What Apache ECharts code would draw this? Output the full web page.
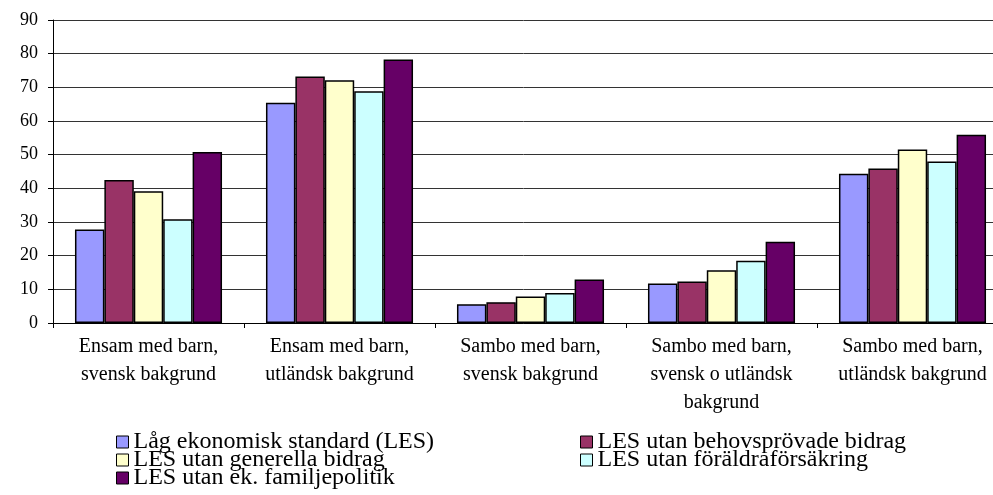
<!DOCTYPE html>
<html>
<head>
    <meta charset="utf-8">
    <title>LES per hushållstyp</title>
    <script src="https://cdn.jsdelivr.net/npm/echarts@6/dist/echarts.min.js"></script>
    <style>
        html, body { margin: 0; padding: 0; background: #ffffff; }
        #chart { width: 993px; height: 495px; }
    </style>
</head>
<body>
<div id="chart"></div>
<script>
    // kategorier och serier
    var categories = [
        'Ensam med barn,\nsvensk bakgrund',
        'Ensam med barn,\nutländsk bakgrund',
        'Sambo med barn,\nsvensk bakgrund',
        'Sambo med barn,\nsvensk o utländsk\nbakgrund',
        'Sambo med barn,\nutländsk bakgrund'
    ];
    var seriesNames = [
        'Låg ekonomisk standard (LES)',
        'LES utan behovsprövade bidrag',
        'LES utan generella bidrag',
        'LES utan föräldraförsäkring',
        'LES utan ek. familjepolitik'
    ];
    var lesValues         = [27.8, 65.4, 5.6, 11.7, 44.3];
    var behovsValues      = [42.5, 73.2, 6.2, 12.3, 45.9];
    var generellaValues   = [39.1, 72.1, 7.9, 15.7, 51.5];
    var foraldraValues    = [30.8, 68.8, 8.9, 18.5, 48.0];
    var familjepolValues  = [50.8, 78.3, 12.9, 24.1, 55.9];
    var yTicks = [0, 10, 20, 30, 40, 50, 60, 70, 80, 90];

    var colors = ['#9999ff', '#993366', '#ffffcc', '#ccffff', '#660066'];
    var allValues = [lesValues, behovsValues, generellaValues, foraldraValues, familjepolValues];
    var font = "'Liberation Serif', 'Times New Roman', serif";

    var series = [];
    for (var i = 0; i < seriesNames.length; i++) {
        series.push({
            name: seriesNames[i],
            type: 'bar',
            data: allValues[i],
            barGap: '0%',
            barCategoryGap: '23%',
            itemStyle: { color: colors[i], borderColor: '#000000', borderWidth: 1.5 }
        });
    }

    // en legend per rad/kolumn, som i originalet
    var legendPos = [[116, 0], [580, 0], [116, 1], [580, 1], [116, 2]];
    var legends = [];
    for (var j = 0; j < seriesNames.length; j++) {
        legends.push({
            data: [seriesNames[j]],
            left: legendPos[j][0],
            top: 430 + legendPos[j][1] * 18,
            padding: 0,
            itemWidth: 12, itemHeight: 12,
            icon: 'rect',
            itemStyle: { borderColor: '#000000', borderWidth: 1 },
            textStyle: { fontFamily: font, fontSize: 24, color: '#000000' }
        });
    }

    var chart = echarts.init(document.getElementById('chart'));
    chart.setOption({
        animation: false,
        textStyle: { fontFamily: font, color: '#000000' },
        grid: { left: 53, top: 20, width: 955, bottom: 172, outerBoundsMode: 'none' },
        legend: legends,
        xAxis: {
            type: 'category',
            data: categories,
            axisLine: { lineStyle: { color: '#000000', width: 1 } },
            axisTick: { show: true, length: 5, lineStyle: { color: '#000000' } },
            axisLabel: { fontFamily: font, fontSize: 20, lineHeight: 28, color: '#000000', margin: 10, interval: 0 }
        },
        yAxis: {
            type: 'value',
            min: yTicks[0],
            max: yTicks[yTicks.length - 1],
            interval: 10,
            axisLine: { show: true, lineStyle: { color: '#000000', width: 1 } },
            axisTick: { show: true, length: 5, lineStyle: { color: '#000000' } },
            axisLabel: { fontFamily: font, fontSize: 18, color: '#000000', margin: 15 },
            splitLine: { lineStyle: { color: '#333333', width: 1 } }
        },
        series: series
    });
</script>
</body>
</html>
